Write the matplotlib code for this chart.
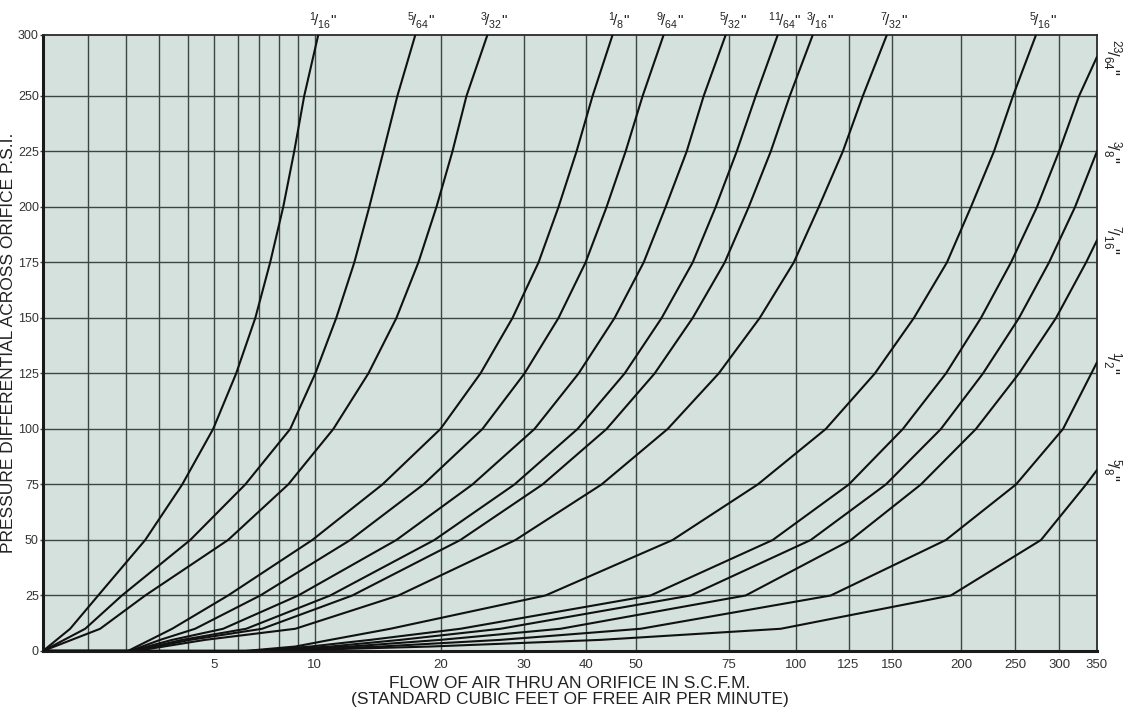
import numpy as np
import matplotlib
matplotlib.use('Agg')
import matplotlib.pyplot as plt

# pressure (psi) / flow (SCFM) pairs
p_1_16 = [0, 10, 25, 50, 75, 100, 125, 150, 175, 200, 225, 250, 300]
q_1_16 = [0, 0.58, 1.25, 2.56, 3.78, 4.95, 5.92, 6.80, 7.53, 8.21, 8.81, 9.38, 10.22]
p_5_64 = [0, 10, 25, 50, 75, 100, 125, 150, 175, 200, 225, 250, 300]
q_5_64 = [0, 0.93, 1.88, 4.07, 6.33, 8.59, 10.04, 11.37, 12.61, 13.71, 14.81, 15.96, 17.54]
p_3_32 = [0, 10, 25, 50, 75, 100, 125, 150, 175, 200, 225, 250, 300]
q_3_32 = [0, 1.30, 2.56, 5.57, 8.48, 11.18, 13.64, 15.88, 17.82, 19.55, 21.19, 22.72, 25.17]

p_1_8 = [0, 0, 5, 10, 25, 50, 75, 100, 125, 150, 175, 200, 225, 250, 300]
q_1_8 = [0, 2.05, 2.71, 3.43, 5.57, 9.86, 14.73, 19.95, 24.33, 28.39, 32.10, 35.22, 38.26, 41.16, 45.05]
p_9_64 = [0, 0, 5, 10, 25, 50, 75, 100, 125, 150, 175, 200, 225, 250, 300]
q_9_64 = [0, 2.11, 3.03, 4.25, 7.04, 12.33, 18.29, 24.57, 30.05, 35.22, 39.87, 43.85, 47.76, 51.52, 56.53]
p_5_32 = [0, 0, 5, 10, 25, 50, 75, 100, 125, 150, 175, 200, 225, 250, 300]
q_5_32 = [0, 2.14, 3.43, 5.36, 9.04, 15.88, 23.40, 31.50, 38.62, 45.46, 51.75, 57.03, 62.54, 67.35, 74.09]
p_11_64 = [0, 0, 5, 10, 25, 50, 75, 100, 125, 150, 175, 200, 225, 250, 300]
q_11_64 = [0, 2.20, 3.78, 6.37, 10.98, 19.35, 28.66, 38.44, 47.55, 56.04, 64.20, 70.95, 77.69, 84.30, 92.62]
p_3_16 = [0, 0, 5, 10, 25, 50, 75, 100, 125, 150, 175, 200, 225, 250, 300]
q_3_16 = [0, 2.23, 4.07, 7.13, 12.47, 22.05, 32.70, 43.85, 54.33, 64.20, 73.77, 81.81, 89.89, 97.48, 107.48]
p_7_32 = [0, 0, 5, 10, 25, 50, 75, 100, 125, 150, 175, 200, 225, 250, 300]
q_7_32 = [0, 2.29, 4.63, 8.87, 16.05, 28.80, 42.87, 57.54, 71.88, 85.76, 99.15, 110.25, 122.01, 132.72, 146.77]

p_5_16 = [0, 0, 2, 5, 10, 25, 50, 75, 100, 125, 150, 175, 200, 225, 250, 300]
q_5_16 = [0, 6.33, 8.87, 10.98, 15.37, 33.16, 58.82, 85.03, 113.56, 139.58, 164.31, 188.51, 208.25, 229.06,
          247.78, 272.45]
# the larger sizes run off the right edge
p_23_64 = [0, 0, 2, 5, 10, 25, 50, 75, 100, 125, 150, 175, 200, 225, 250, 282]
q_23_64 = [0, 6.56, 9.74, 13.79, 22.05, 53.38, 90.67, 125.13, 156.93, 187.72, 217.06, 245.74, 273.57, 299.52,
           325.21, 350]
p_3_8 = [0, 0, 2, 5, 10, 25, 50, 75, 100, 125, 150, 175, 200, 225]
q_3_8 = [0, 6.80, 10.98, 16.22, 26.81, 63.64, 106.58, 146.16, 183.86, 218.87, 253.99, 287.44, 319.90, 350]
p_7_16 = [0, 0, 2, 5, 10, 25, 50, 75, 100, 125, 150, 175, 185]
q_7_16 = [0, 7.04, 12.33, 19.95, 35.55, 80.76, 126.19, 169.17, 212.61, 253.99, 295.85, 334.70, 350]
p_1_2 = [0, 0, 2, 5, 10, 25, 50, 75, 100, 130]
q_1_2 = [0, 7.28, 14.57, 26.81, 51.06, 115.99, 187.72, 250.87, 304.50, 350]
p_5_8 = [0, 0, 2, 5, 10, 25, 50, 75, 81.5]
q_5_8 = [0, 7.53, 18.96, 42.68, 93.81, 191.66, 278.12, 334.70, 350]

top_nums = ['1', '5', '3', '1', '9', '5', '11', '3', '7', '5']
top_dens = ['16', '64', '32', '8', '64', '32', '64', '16', '32', '16']
right_nums = ['23', '3', '7', '1', '5']
right_dens = ['64', '8', '16', '2', '8']

x_grid = [0, 1, 2, 3, 4, 5, 6, 7, 8, 9, 10, 20, 30, 40, 50, 75, 100, 125, 150, 200, 250, 300, 350]
x_labeled = [5, 10, 20, 30, 40, 50, 75, 100, 125, 150, 200, 250, 300, 350]
y_ticks = [0, 25, 50, 75, 100, 125, 150, 175, 200, 225, 250, 300]


def x_fwd(x):
    x = np.asarray(x, dtype=float)
    return np.log1p(np.clip(x, -4.9, None) / 5.0)


def x_inv(t):
    return 5.0 * np.expm1(np.asarray(t, dtype=float))


# the chart squeezes 250-300 psi into about half the normal spacing
SQ = 0.55


def y_fwd(y):
    y = np.asarray(y, dtype=float)
    return np.where(y <= 250, y, 250 + (y - 250) * SQ)


def y_inv(t):
    t = np.asarray(t, dtype=float)
    return np.where(t <= 250, t, 250 + (t - 250) / SQ)


plt.rcParams['font.family'] = 'Liberation Sans'
plt.rcParams['mathtext.fontset'] = 'custom'
plt.rcParams['mathtext.rm'] = 'Liberation Sans'
plt.rcParams['mathtext.it'] = 'Liberation Sans:italic'

fig = plt.figure(figsize=(11.23, 7.13), dpi=100)
ax = fig.add_axes([0.0383, 0.087, 0.9385, 0.864])
ax.set_facecolor('#d4e1dc')

ax.set_xscale('function', functions=(x_fwd, x_inv))
ax.set_yscale('function', functions=(y_fwd, y_inv))
ax.set_xlim(0, 350)
ax.set_ylim(0, 300)

grid_col = '#3c4743'
for xv in x_grid[1:-1]:
    ax.axvline(xv, color=grid_col, lw=1.0, zorder=1)
for yv in y_ticks[1:-1]:
    ax.axhline(yv, color=grid_col, lw=1.0, zorder=1)

curve_kw = dict(color='#111111', lw=1.5, zorder=3, solid_joinstyle='round')

top_curves = [(p_1_16, q_1_16), (p_5_64, q_5_64), (p_3_32, q_3_32), (p_1_8, q_1_8), (p_9_64, q_9_64),
              (p_5_32, q_5_32), (p_11_64, q_11_64), (p_3_16, q_3_16), (p_7_32, q_7_32), (p_5_16, q_5_16)]
side_curves = [(p_23_64, q_23_64), (p_3_8, q_3_8), (p_7_16, q_7_16), (p_1_2, q_1_2), (p_5_8, q_5_8)]

for p, q in top_curves + side_curves:
    ax.plot(q, p, **curve_kw)

# size labels along the top
trans = ax.get_xaxis_transform()
for (p, q), num, den in zip(top_curves, top_nums, top_dens):
    ax.text(q[-1] * 1.03, 1.006, r'$^{%s}\!/_{%s}$"' % (num, den), transform=trans,
            ha='center', va='bottom', fontsize=11, color='#222222')

# size labels on the right edge, turned on their side
ytrans = ax.get_yaxis_transform()
for (p, q), num, den in zip(side_curves, right_nums, right_dens):
    ax.text(1.004, p[-1], r'$^{%s}\!/_{%s}$"' % (num, den), transform=ytrans,
            ha='left', va='center', fontsize=12, color='#222222', rotation=-90)

ax.set_xticks(x_grid)
ax.set_xticklabels([str(v) if v in x_labeled else '' for v in x_grid])
ax.set_yticks(y_ticks)
ax.set_yticklabels([str(v) for v in y_ticks])
ax.xaxis.set_minor_locator(matplotlib.ticker.NullLocator())
ax.yaxis.set_minor_locator(matplotlib.ticker.NullLocator())
ax.tick_params(axis='x', length=0, pad=6, labelsize=9.5, labelcolor='#333333')
ax.tick_params(axis='y', length=2, width=1.0, color=grid_col, pad=1, labelsize=9, labelcolor='#333333')

for side in ['left', 'bottom']:
    ax.spines[side].set_linewidth(2.2)
    ax.spines[side].set_color('#1a1a1a')
for side in ['top', 'right']:
    ax.spines[side].set_linewidth(1.3)
    ax.spines[side].set_color('#2a2a2a')

ax.set_xlabel('FLOW OF AIR THRU AN ORIFICE IN S.C.F.M.\n(STANDARD CUBIC FEET OF FREE AIR PER MINUTE)',
              fontsize=12.5, color='#222222', linespacing=1.08)
ax.xaxis.set_label_coords(0.5, -0.041, transform=ax.transAxes)
ax.xaxis.label.set_va('top')
ax.set_ylabel('PRESSURE DIFFERENTIAL ACROSS ORIFICE P.S.I.', fontsize=12.5, color='#222222')
ax.yaxis.set_label_coords(-0.0325, 0.5, transform=ax.transAxes)
ax.yaxis.label.set_va('center')

fig.savefig('out.png', dpi=100)
